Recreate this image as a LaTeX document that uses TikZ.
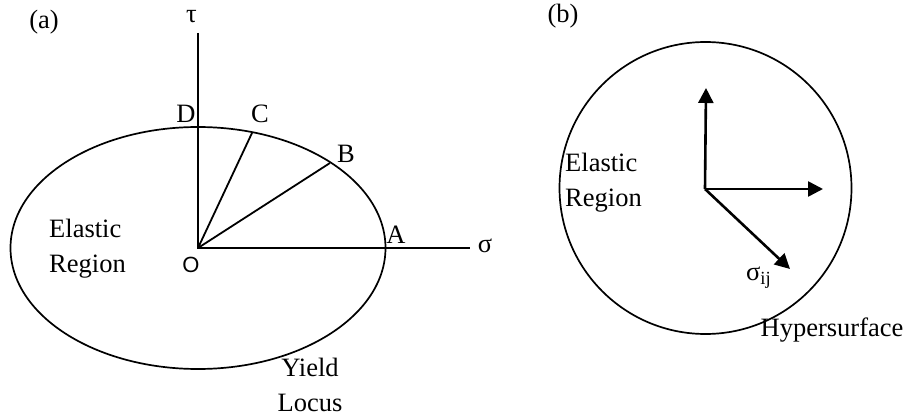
\documentclass[tikz,border=0pt]{standalone}
\usepackage{fontspec}
\setmainfont{Liberation Serif}
\newfontfamily\sansO{Liberation Sans}
\usetikzlibrary{arrows.meta}
\begin{document}
\begin{tikzpicture}[x=1pt,y=-1pt,
  lbl/.style={inner sep=0pt,font=\fontsize{26.5}{35}\selectfont},
  axisline/.style={line width=1.8pt},
  curve/.style={line width=1.7pt},
  vec/.style={line width=2.6pt,-{Triangle[length=15pt,width=15pt]}}]
\useasboundingbox (0,0) rectangle (907,417);
% ---------- panel (a)
\coordinate (O) at (198,248);
\coordinate (T) at (198,33);
\coordinate (S) at (470,248);
\coordinate (Cp) at (252,133);
\coordinate (Bp) at (330,163);
\draw[curve] (O) ellipse [x radius=187.5, y radius=121];
\draw[axisline] (T) -- (O) -- (S);
\draw[axisline] (O) -- (Cp);
\draw[axisline] (O) -- (Bp);
\node[lbl] (la) at (44,22) {(a)};
\node[lbl] (tau) at (191.5,17) {τ};
\node[lbl] (sig) at (485,246) {σ};
\node[lbl] (lA) at (396,235) {A};
\node[lbl] (lB) at (346,154) {B};
\node[lbl] (lC) at (260,114) {C};
\node[lbl] (lD) at (186,114) {D};
\node[inner sep=0pt,font=\sansO\fontsize{22}{24}\selectfont] (lO) at (191,264.5) {O};
\node[lbl,align=left,anchor=west] (er1) at (49,249) {Elastic\\Region};
\node[lbl,align=center] (yl) at (310,385) {Yield\\Locus};
% ---------- panel (b)
\coordinate (P) at (705,189);
\coordinate (U) at (706,88);
\coordinate (R) at (823,189);
\coordinate (Dg) at (790,269);
\draw[curve] (705.5,188) circle [radius=146];
\draw[vec] (P) -- (U);
\draw[vec] (P) -- (R);
\draw[vec] (P) -- (Dg);
\node[lbl] (lb) at (563,16) {(b)};
\node[lbl,anchor=west] (sij) at (746,278) {σ\textsubscript{ij}};
\node[lbl,align=left,anchor=west] (er2) at (565,183) {Elastic\\Region};
\node[lbl] (hs) at (832,330) {Hypersurface};
\end{tikzpicture}
\end{document}
